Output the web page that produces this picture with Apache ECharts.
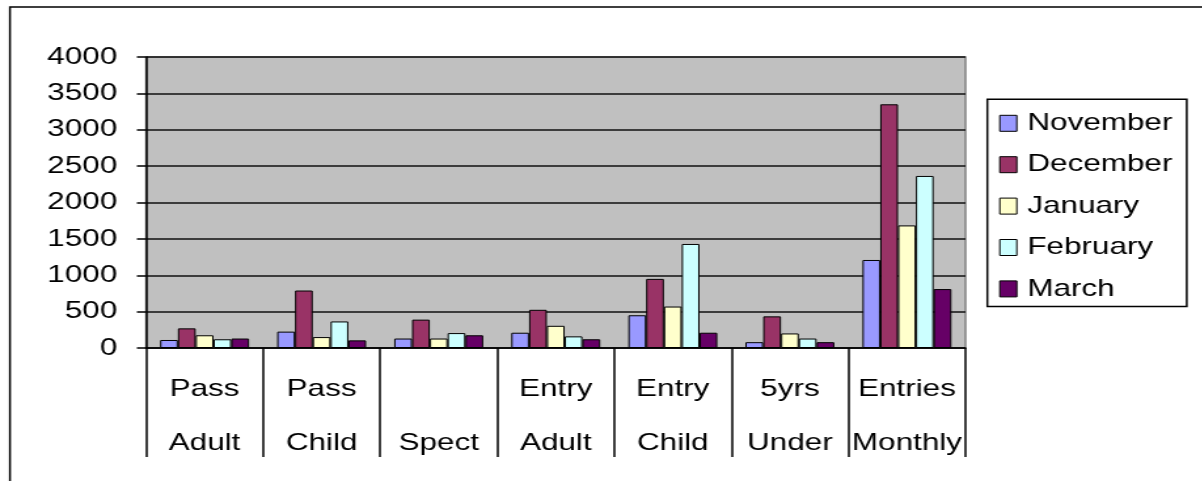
<!DOCTYPE html>
<html>
<head>
<meta charset="utf-8">
<script src="https://cdn.jsdelivr.net/npm/echarts@6/dist/echarts.min.js"></script>
<style>
  html, body { margin: 0; padding: 0; background: #fff; overflow: hidden; }
  #chart { width: 917.56px; height: 481px; transform: scaleX(1.31); transform-origin: 0 0; }
</style>
</head>
<body>
<div id="chart"></div>
<script>
// Data
var categories = ['Pass\nAdult', 'Pass\nChild', '\nSpect', 'Entry\nAdult', 'Entry\nChild', '5yrs\nUnder', 'Entries\nMonthly'];
var seriesNames = ['November', 'December', 'January', 'February', 'March'];
var november = [110, 225, 130, 210, 450, 80, 1210];
var december = [270, 790, 390, 525, 950, 435, 3350];
var january  = [175, 150, 130, 305, 570, 200, 1685];
var february = [120, 365, 205, 160, 1430, 130, 2365];
var march    = [130, 105, 175, 120, 210, 80, 810];
var yTicks = [0, 500, 1000, 1500, 2000, 2500, 3000, 3500, 4000];

var colors = ['#9999FF', '#993366', '#FFFFCC', '#CCFFFF', '#660066'];
var values = [november, december, january, february, march];
var FONT = "'Liberation Sans', Arial, sans-serif";

var chart = echarts.init(document.getElementById('chart'));
var series = seriesNames.map(function (name, i) {
  return {
    name: name,
    type: 'bar',
    data: values[i],
    barGap: '0%',
    barCategoryGap: '24%',
    itemStyle: { color: colors[i], borderColor: '#000', borderWidth: 1 },
    emphasis: { disabled: true },
    animation: false
  };
});

chart.setOption({
  animation: false,
  color: colors,
  textStyle: { fontFamily: FONT },
  graphic: [{
    type: 'rect',
    shape: { x: 7.6, y: 7, width: 2000, height: 1000 },
    style: { fill: 'none', stroke: '#000', lineWidth: 1.5 },
    silent: true,
    z: -10
  }],
  grid: {
    left: 111.5, right: 181, top: 57, bottom: 133,
    show: true, backgroundColor: '#C0C0C0', borderColor: '#808080', borderWidth: 1.5,
    containLabel: false
  },
  legend: {
    orient: 'vertical',
    left: 753.7, top: 99.3,
    data: seriesNames,
    icon: 'rect',
    itemWidth: 13, itemHeight: 16,
    itemGap: 17.4,
    padding: [12, 11, 5.5, 9],
    borderColor: '#000', borderWidth: 1.5,
    backgroundColor: '#fff',
    itemStyle: { borderColor: '#000', borderWidth: 1 },
    textStyle: { fontSize: 24, color: '#000', fontFamily: FONT, padding: [0, 0, 0, 3] },
    selectedMode: false
  },
  xAxis: {
    type: 'category',
    data: categories,
    boundaryGap: true,
    axisLine: { show: true, lineStyle: { color: '#000', width: 1.5 } },
    axisTick: { show: true, interval: 0, length: 109, lineStyle: { color: '#000', width: 1.5 } },
    axisLabel: { interval: 0, fontSize: 24, color: '#000', fontFamily: FONT, lineHeight: 54, margin: 14 },
    splitLine: { show: false }
  },
  yAxis: {
    type: 'value',
    min: yTicks[0], max: yTicks[yTicks.length - 1], interval: yTicks[1] - yTicks[0],
    axisLine: { show: true, lineStyle: { color: '#000', width: 1.5 } },
    axisTick: { show: true, length: 7, lineStyle: { color: '#000', width: 1.5 } },
    axisLabel: { fontSize: 24, color: '#000', fontFamily: FONT, margin: 22,
      formatter: function (v) { return String(v); } },
    splitLine: { show: true, lineStyle: { color: '#111', width: 1.5 } }
  },
  series: series
});
</script>
</body>
</html>
